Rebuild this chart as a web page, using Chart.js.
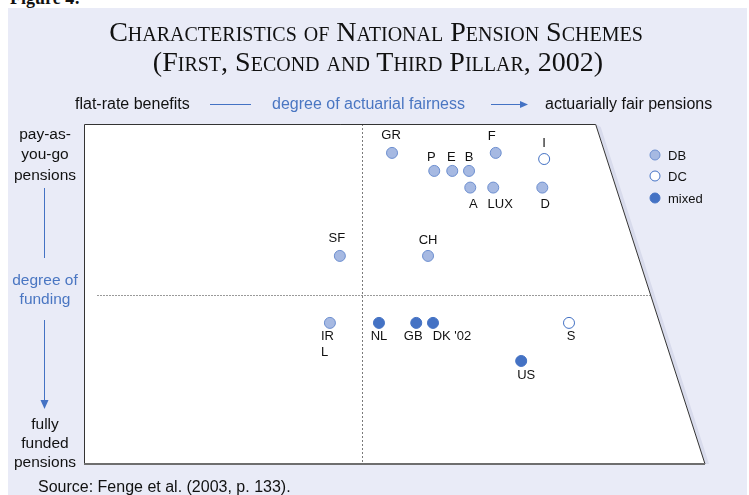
<!DOCTYPE html>
<html>
<head>
<meta charset="utf-8">
<script src="https://cdn.jsdelivr.net/npm/chart.js@4.4.1/dist/chart.umd.min.js"></script>
<style>
html, body { margin: 0; padding: 0; background: #fff; }
#wrap { position: relative; width: 749px; height: 495px; overflow: hidden; background: #fff;
        font-family: "Liberation Sans", Arial, sans-serif; color: #111; }
#panel { position: absolute; left: 8px; top: 8px; width: 739px; height: 487px; background: #e9ebf7; }
#chart { position: absolute; left: 0; top: 0; }
.t { position: absolute; white-space: nowrap; line-height: 1; transform: translate(-50%, -50%); }
.l { transform: translate(0, -50%); }
.title { font-family: "Liberation Serif", "Times New Roman", serif; font-variant: small-caps; font-size: 28px; color: #111; }
.s16 { font-size: 16px; }
.s15 { font-size: 15.5px; }
.blue { color: #4a76c2; }
.fig { position: absolute; left: 10px; top: -12px; font: bold 18px "Liberation Serif", serif; }
.leg { position: absolute; font-size: 13px; line-height: 1; transform: translate(0, -50%); }
.dot { position: absolute; width: 11px; height: 11px; border-radius: 50%; transform: translate(-50%, -50%); box-sizing: border-box; border: 1px solid #4472c4; }
</style>
</head>
<body>
<div id="wrap">
  <div class="fig">Figure 4:</div>
  <div id="panel"></div>
  <canvas id="chart" width="749" height="495"></canvas>

  <div class="t title" style="left:376px; top:32px;">Characteristics of National Pension Schemes</div>
  <div class="t title" style="left:378px; top:62px;">(First, Second and Third Pillar, 2002)</div>

  <div class="t l s16" style="left:75px; top:104px;">flat-rate benefits</div>
  <div class="t l s16 blue" style="left:272px; top:104px;">degree of actuarial fairness</div>
  <div class="t l s16" style="left:545px; top:104px;">actuarially fair pensions</div>

  <div class="t s15" style="left:45px; top:134px;">pay-as-</div>
  <div class="t s15" style="left:45px; top:154px;">you-go</div>
  <div class="t s15" style="left:45px; top:175px;">pensions</div>
  <div class="t s15 blue" style="left:45px; top:280px;">degree of</div>
  <div class="t s15 blue" style="left:45px; top:299px;">funding</div>
  <div class="t s15" style="left:45px; top:424px;">fully</div>
  <div class="t s15" style="left:45px; top:443px;">funded</div>
  <div class="t s15" style="left:45px; top:462px;">pensions</div>

  <div class="dot" style="left:655px; top:155px; background:#a6b9e2; border-color:#6d8fd0;"></div>
  <div class="leg" style="left:668px; top:155px;">DB</div>
  <div class="dot" style="left:655px; top:176px; background:#fff;"></div>
  <div class="leg" style="left:668px; top:176px;">DC</div>
  <div class="dot" style="left:655px; top:198px; background:#4472c4;"></div>
  <div class="leg" style="left:668px; top:198px;">mixed</div>

  <div class="t l s16" style="left:38px; top:487px;">Source: Fenge et al. (2003, p. 133).</div>
</div>

<script>
// x: degree of actuarial fairness (0 = flat-rate, 100 = actuarially fair)
// y: degree of funding (100 = pay-as-you-go, 0 = fully funded)
const dbNames    = ['GR', 'P', 'E', 'B', 'F', 'A', 'LUX', 'D', 'SF', 'CH', 'IRL'];
const dbFairness = [49.6, 56.4, 59.3, 62.0, 66.3, 62.2, 65.9, 73.8, 41.2, 55.4, 39.6];
const dbFunding  = [91.5, 86.2, 86.2, 86.2, 91.5, 81.3, 81.3, 81.3, 61.2, 61.2, 41.5];

const dcNames    = ['I', 'S'];
const dcFairness = [74.1, 78.1];
const dcFunding  = [89.7, 41.5];

const mixNames    = ['NL', 'GB', "DK '02", 'US'];
const mixFairness = [47.5, 53.5, 56.2, 70.4];
const mixFunding  = [41.5, 41.5, 41.5, 30.3];

// quadrant dividers and the slanted right edge of the plot
const dividerX = 44.8;
const dividerY = 49.7;
const topRightX = 82.4;

// where each label sits relative to its marker (pixels)
const labelOffsets = {
    'GR': [-1, -17], 'P': [-3, -13], 'E': [-1, -13], 'B': [0, -13], 'F': [-4, -16],
    'A': [3, 17], 'LUX': [7, 17], 'D': [3, 17], 'SF': [-3, -17], 'CH': [0, -15],
    'IRL': [-3, 14], 'I': [0, -16], 'S': [2, 14],
    'NL': [0, 14], 'GB': [-3, 14], "DK '02": [19, 14], 'US': [5, 14]
};
const labelText = { 'IRL': ['IR', 'L'] };

function toPoints(names, xs, ys) {
    return names.map((n, i) => ({ x: xs[i], y: ys[i], name: n }));
}

// white trapezoid with dotted quadrant lines
const trapezoid = {
    id: 'trapezoid',
    beforeDatasetsDraw(chart) {
        const { ctx, scales: { x, y } } = chart;
        const x0 = x.getPixelForValue(0), x1 = x.getPixelForValue(topRightX), x2 = x.getPixelForValue(100);
        const yT = y.getPixelForValue(100), yB = y.getPixelForValue(0);
        ctx.save();
        // soft shadow along the right side
        ctx.fillStyle = '#d8dbec';
        ctx.beginPath();
        ctx.moveTo(x1, yT); ctx.lineTo(x1 + 5, yT + 3); ctx.lineTo(x2 + 4, yB); ctx.lineTo(x2, yB);
        ctx.closePath(); ctx.fill();

        ctx.fillStyle = '#fff';
        ctx.beginPath();
        ctx.moveTo(x0, yT); ctx.lineTo(x1, yT); ctx.lineTo(x2, yB); ctx.lineTo(x0, yB);
        ctx.closePath(); ctx.fill();

        // dotted dividers
        ctx.strokeStyle = '#7a7a7a';
        ctx.lineWidth = 1;
        ctx.setLineDash([2, 2]);
        const dx = Math.round(x.getPixelForValue(dividerX)) + 0.5;
        ctx.beginPath(); ctx.moveTo(dx, yT); ctx.lineTo(dx, yB); ctx.stroke();
        const hy = Math.round(y.getPixelForValue(dividerY)) + 0.5;
        const t = (hy - yT) / (yB - yT);
        ctx.strokeStyle = '#9a9a9a';
        ctx.setLineDash([2, 1]);
        ctx.beginPath(); ctx.moveTo(x0 + 13, hy); ctx.lineTo(x1 + (x2 - x1) * t, hy); ctx.stroke();
        ctx.setLineDash([]);

        // outline
        ctx.strokeStyle = '#333';
        ctx.lineWidth = 1;
        ctx.beginPath();
        ctx.moveTo(x2, yB); ctx.lineTo(x1, yT + 0.5); ctx.lineTo(x0 + 0.5, yT + 0.5); ctx.lineTo(x0 + 0.5, yB);
        ctx.stroke();
        ctx.strokeStyle = '#6e6e6e';
        ctx.lineWidth = 2;
        ctx.beginPath(); ctx.moveTo(x0, yB); ctx.lineTo(x2, yB); ctx.stroke();
        ctx.restore();
    }
};

// country labels next to each marker
const pointLabels = {
    id: 'pointLabels',
    afterDatasetsDraw(chart) {
        const ctx = chart.ctx;
        ctx.save();
        ctx.font = '13px "Liberation Sans", Arial, sans-serif';
        ctx.fillStyle = '#111';
        ctx.textBaseline = 'middle';
        chart.data.datasets.forEach((ds, di) => {
            chart.getDatasetMeta(di).data.forEach((el, i) => {
                const name = ds.data[i].name;
                const off = labelOffsets[name] || [0, -15];
                const lines = labelText[name];
                if (lines) {
                    ctx.textAlign = 'left';
                    lines.forEach((ln, k) => ctx.fillText(ln, el.x - 9, el.y + off[1] + k * 16));
                } else {
                    ctx.textAlign = 'center';
                    ctx.fillText(name, el.x + off[0], el.y + off[1]);
                }
            });
        });
        ctx.restore();
    }
};

// arrows of the two axes
const axisArrows = {
    id: 'axisArrows',
    afterDraw(chart) {
        const ctx = chart.ctx;
        ctx.save();
        ctx.strokeStyle = '#4472c4';
        ctx.fillStyle = '#4472c4';
        ctx.lineWidth = 1;
        ctx.beginPath();
        ctx.moveTo(210, 104.5); ctx.lineTo(251, 104.5);
        ctx.moveTo(491, 104.5); ctx.lineTo(520, 104.5);
        ctx.moveTo(44.5, 188); ctx.lineTo(44.5, 258);
        ctx.moveTo(44.5, 320); ctx.lineTo(44.5, 401);
        ctx.stroke();
        ctx.beginPath();
        ctx.moveTo(520, 101); ctx.lineTo(528, 104.5); ctx.lineTo(520, 108); ctx.closePath(); ctx.fill();
        ctx.beginPath();
        ctx.moveTo(40.5, 400); ctx.lineTo(48.5, 400); ctx.lineTo(44.5, 409); ctx.closePath(); ctx.fill();
        ctx.restore();
    }
};

const ctx = document.getElementById('chart').getContext('2d');
const chart = new Chart(ctx, {
    type: 'scatter',
    data: {
        datasets: [
            {
                label: 'DB',
                data: toPoints(dbNames, dbFairness, dbFunding),
                backgroundColor: '#a6b9e2',
                borderColor: '#6d8fd0'
            },
            {
                label: 'DC',
                data: toPoints(dcNames, dcFairness, dcFunding),
                backgroundColor: '#ffffff',
                borderColor: '#4472c4'
            },
            {
                label: 'mixed',
                data: toPoints(mixNames, mixFairness, mixFunding),
                backgroundColor: '#4472c4',
                borderColor: '#4472c4'
            }
        ]
    },
    options: {
        responsive: false,
        animation: false,
        layout: { padding: { left: 84, top: 124, right: 44, bottom: 31 }, autoPadding: false },
        scales: {
            x: { display: false, min: 0, max: 100 },
            y: { display: false, min: 0, max: 100 }
        },
        elements: { point: { radius: 5.5, borderWidth: 1 } },
        plugins: { legend: { display: false }, tooltip: { enabled: false } }
    },
    plugins: [trapezoid, pointLabels, axisArrows]
});
</script>
</body>
</html>
